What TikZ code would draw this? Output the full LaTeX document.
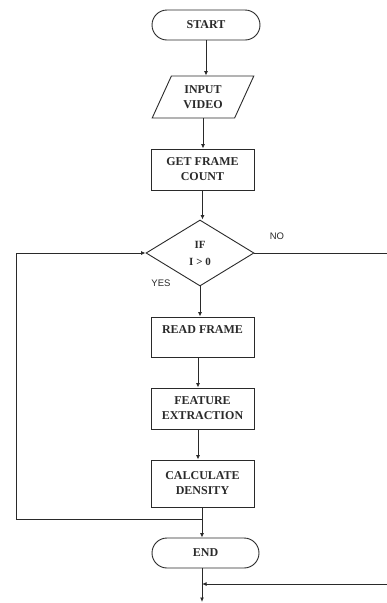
\documentclass[tikz,border=0pt]{standalone}
\usepackage{fontspec}
\setmainfont{Liberation Serif}
\newfontfamily\labelsans{Liberation Sans}
\usetikzlibrary{shapes.geometric,shapes.misc,arrows.meta}
\definecolor{ink}{HTML}{2A2A2A}
\tikzset{
  x=1pt,y=-1pt,
  every node/.style={font=\bfseries\fontsize{12}{15}\selectfont, text=ink},
  base/.style={draw=ink, line width=0.9pt, align=center, inner sep=1pt},
  terminal/.style={base, rounded rectangle, minimum height=30pt},
  iobox/.style={base, trapezium, trapezium left angle=63.4, trapezium right angle=116.6,
    trapezium stretches=true, minimum width=102pt, minimum height=42pt},
  procbox/.style={base, rectangle, minimum width=103pt},
  decbox/.style={base, diamond, minimum width=108pt, minimum height=66pt, inner sep=0pt,
    font=\bfseries\fontsize{11}{17}\selectfont},
  conn/.style={draw=ink, line width=0.9pt},
  arr/.style={conn, -{Latex[length=4.5pt,width=4pt]}},
  yn/.style={font=\labelsans\fontsize{9.5}{11}\selectfont, text=ink}
}
\begin{document}
\begin{tikzpicture}
\useasboundingbox (0,0) rectangle (387,603);
\fill[white] (0,0) rectangle (387,603);

\node[terminal, minimum width=110pt] (start) at (206,25) {START};
\node[iobox] (input) at (203,97) {INPUT\\VIDEO};
\node[procbox, minimum height=41pt] (get) at (202.5,169.5) {GET FRAME\\COUNT};
\node[decbox] (dec) at (200,253) {IF\\I > 0};
\node[procbox, minimum height=40pt] (read) at (202.5,337) {READ FRAME\\\phantom{X}};
\node[procbox, minimum height=41pt] (feat) at (202.5,408.5) {FEATURE\\EXTRACTION};
\node[procbox, minimum height=47pt] (calc) at (202.5,483.5) {CALCULATE\\DENSITY};
\node[terminal, minimum width=109pt] (end) at (205.5,553) {END};

\node[yn] (no) at (277,236) {NO};
\node[yn] (yes) at (161,283) {YES};

\coordinate (j1) at (202,519);
\coordinate (lc1) at (16,519);
\coordinate (lc2) at (16,253);
\coordinate (noend) at (387,253);
\coordinate (j2) at (202,584);
\coordinate (rin) at (387,584);
\coordinate (botend) at (202,602);

\draw[arr] (start.south) -- (start.south |- input.north);
\draw[arr] (input.south) -- (input.south |- get.north);
\draw[arr] (get.south) -- (get.south |- dec.north);
\draw[arr] (dec.south) -- (dec.south |- read.north);
\draw[arr] ([xshift=-4.5pt]read.south) -- ([xshift=-4.5pt]feat.north);
\draw[arr] ([xshift=-4.5pt]feat.south) -- ([xshift=-4.5pt]calc.north);
\draw[arr] (j1 |- calc.south) -- (j1 |- end.north);
\draw[arr] (j1) -- (lc1) -- (lc2) -- (dec.west);
\draw[conn] (dec.east) -- (noend);
\draw[arr] (j2 |- end.south) -- (botend);
\draw[arr] (rin) -- (j2);
\end{tikzpicture}
\end{document}
